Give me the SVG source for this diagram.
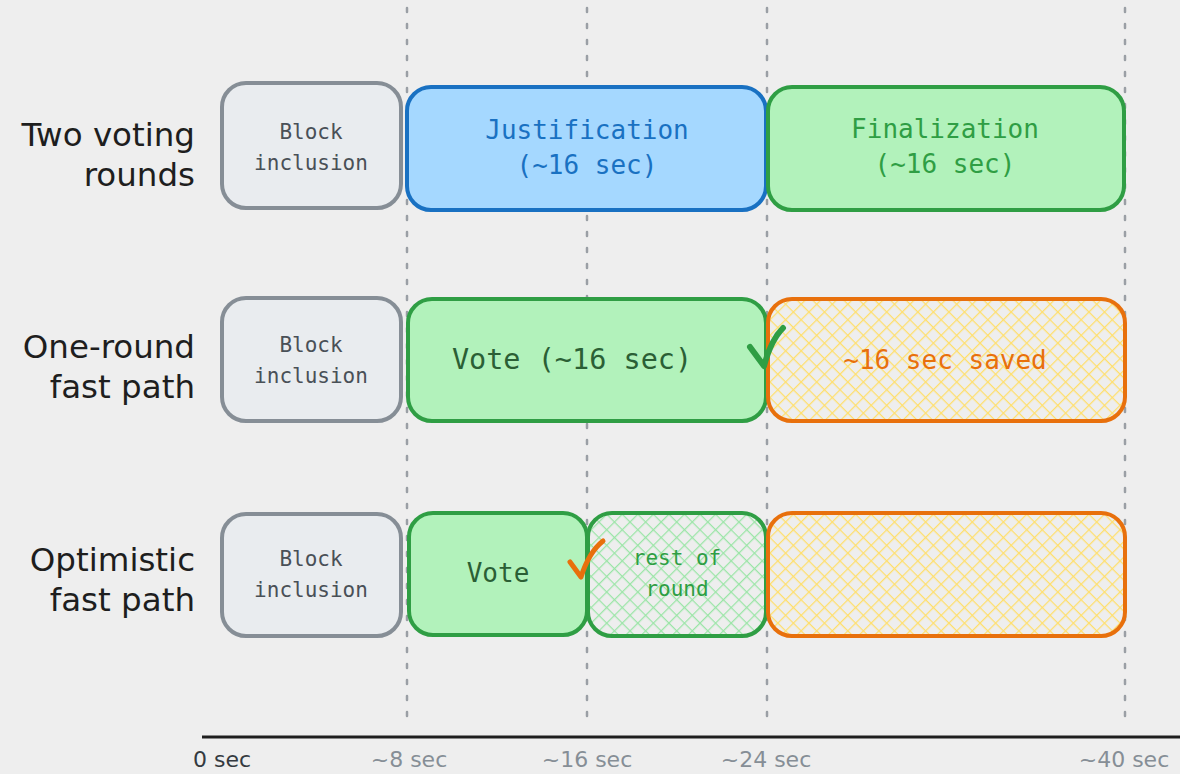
<svg xmlns="http://www.w3.org/2000/svg" width="1180" height="774" viewBox="0 0 1180 774">
<defs>
<pattern id="hy" patternUnits="userSpaceOnUse" width="11" height="11" patternTransform="rotate(45)">
<line x1="0" y1="0" x2="0" y2="11" stroke="#ffdf6b" stroke-width="2.5"/>
<line x1="0" y1="0" x2="11" y2="0" stroke="#ffdf6b" stroke-width="2.5"/>
</pattern>
<pattern id="hg" patternUnits="userSpaceOnUse" width="11" height="11" patternTransform="rotate(45)">
<line x1="0" y1="0" x2="0" y2="11" stroke="#9be5a7" stroke-width="2.5"/>
<line x1="0" y1="0" x2="11" y2="0" stroke="#9be5a7" stroke-width="2.5"/>
</pattern>
</defs>
<style>
.hand{font-family:"DejaVu Sans","Liberation Sans",sans-serif;fill:#1e1e1e}
.mono{font-family:"DejaVu Sans Mono","Liberation Mono",monospace;text-anchor:middle}
.grid{stroke:#9a9fa5;stroke-width:2.5;stroke-dasharray:4 12;stroke-linecap:round}
.gray{fill:#e9ecef;stroke:#868e96;stroke-width:4}
.blue{fill:#a5d8ff;stroke:#1971c2;stroke-width:4}
.green{fill:#b2f2bb;stroke:#2f9e44;stroke-width:4}
.tl{font-size:32.5px;text-anchor:end}
.ax{font-size:22px;fill:#868e96;text-anchor:middle}
</style>
<rect width="1180" height="774" fill="#eeeeee"/>
<g id="gridlines">
<line class="grid" x1="407" y1="8" x2="407" y2="722"/>
<line class="grid" x1="587" y1="8" x2="587" y2="722"/>
<line class="grid" x1="767" y1="8" x2="767" y2="722"/>
<line class="grid" x1="1125" y1="8" x2="1125" y2="722"/>
</g>
<g id="labels">
<text class="hand tl" x="195" y="146">Two voting</text>
<text class="hand tl" x="195" y="186">rounds</text>
<text class="hand tl" x="195" y="358">One-round</text>
<text class="hand tl" x="195" y="398">fast path</text>
<text class="hand tl" x="195" y="571">Optimistic</text>
<text class="hand tl" x="195" y="611">fast path</text>
</g>
<g id="row1">
<g id="r1-block"><rect class="gray" x="222" y="83" width="179" height="125" rx="24"/>
<text class="mono" x="311" y="139" font-size="21" fill="#495057">Block</text>
<text class="mono" x="311" y="170" font-size="21" fill="#495057">inclusion</text></g>
<g id="r1-just"><rect class="blue" x="407" y="87" width="359" height="123" rx="24"/>
<text class="mono" x="587" y="139" font-size="26" fill="#1971c2">Justification</text>
<text class="mono" x="587" y="174" font-size="26" fill="#1971c2">(~16 sec)</text></g>
<g id="r1-final"><rect class="green" x="768" y="87" width="356" height="123" rx="24"/>
<text class="mono" x="945" y="138" font-size="26" fill="#2f9e44">Finalization</text>
<text class="mono" x="945" y="173" font-size="26" fill="#2f9e44">(~16 sec)</text></g>
</g>
<g id="row2">
<g id="r2-block"><rect class="gray" x="222" y="298" width="179" height="123" rx="24"/>
<text class="mono" x="311" y="352" font-size="21" fill="#495057">Block</text>
<text class="mono" x="311" y="383" font-size="21" fill="#495057">inclusion</text></g>
<g id="r2-vote"><rect class="green" x="408" y="299" width="358" height="122" rx="24"/>
<text class="mono" x="572" y="369" font-size="28.5" fill="#2b5f35">Vote (~16 sec)</text></g>
<g id="r2-saved"><rect x="768" y="299" width="357" height="122" rx="24" fill="url(#hy)" stroke="#e8700c" stroke-width="4"/>
<text class="mono" x="945" y="369" font-size="26" fill="#e8700c">~16 sec saved</text></g>
</g>
<g id="row3">
<g id="r3-block"><rect class="gray" x="222" y="514" width="179" height="122" rx="24"/>
<text class="mono" x="311" y="566" font-size="21" fill="#495057">Block</text>
<text class="mono" x="311" y="597" font-size="21" fill="#495057">inclusion</text></g>
<g id="r3-vote"><rect class="green" x="409" y="513" width="178" height="122" rx="24"/>
<text class="mono" x="498" y="582" font-size="26" fill="#2b5f35">Vote</text></g>
<g id="r3-rest"><rect x="588" y="513" width="178" height="123" rx="24" fill="url(#hg)" stroke="#2f9e44" stroke-width="4"/>
<text class="mono" x="677" y="565" font-size="21" fill="#2f9e44">rest of</text>
<text class="mono" x="677" y="596" font-size="21" fill="#2f9e44">round</text></g>
<g id="r3-saved"><rect x="768" y="513" width="357" height="123" rx="24" fill="url(#hy)" stroke="#e8700c" stroke-width="4"/></g>
</g>
<g id="checks">
<path d="M750 347 L764 366 Q771 340 783 328" fill="none" stroke="#2f9e44" stroke-width="6" stroke-linecap="round" stroke-linejoin="round"/>
<path d="M570 562 L581 577 Q589 552 603 541" fill="none" stroke="#e8700c" stroke-width="5" stroke-linecap="round" stroke-linejoin="round"/>
</g>
<g id="axis">
<line x1="202" y1="737" x2="1180" y2="737" stroke="#1e1e1e" stroke-width="3"/>
<text class="hand ax" x="222" y="767" style="fill:#343a40">0 sec</text>
<text class="hand ax" x="409" y="767">~8 sec</text>
<text class="hand ax" x="587" y="767">~16 sec</text>
<text class="hand ax" x="766" y="767">~24 sec</text>
<text class="hand ax" x="1124" y="767">~40 sec</text>
</g>
</svg>
